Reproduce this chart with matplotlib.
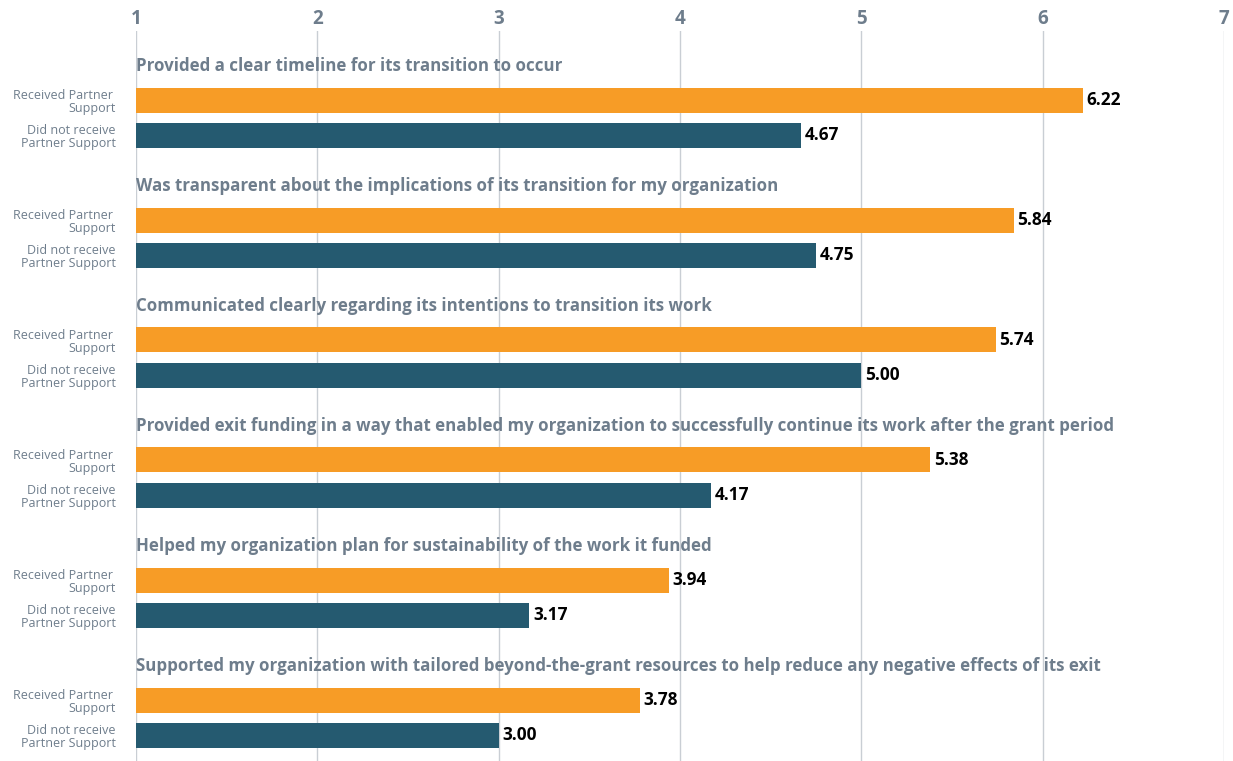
import matplotlib
matplotlib.use("Agg")
import matplotlib.pyplot as plt

questions = [
    "Provided a clear timeline for its transition to occur",
    "Was transparent about the implications of its transition for my organization",
    "Communicated clearly regarding its intentions to transition its work",
    "Provided exit funding in a way that enabled my organization to successfully continue its work after the grant period",
    "Helped my organization plan for sustainability of the work it funded",
    "Supported my organization with tailored beyond-the-grant resources to help reduce any negative effects of its exit",
]
received = [6.22, 5.84, 5.74, 5.38, 3.94, 3.78]
not_received = [4.67, 4.75, 5.00, 4.17, 3.17, 3.00]
series_labels = ["Received Partner \nSupport", "Did not receive\nPartner Support"]
xticks = [1, 2, 3, 4, 5, 6, 7]

ORANGE = "#F79C26"
TEAL = "#255A70"
GREY_TXT = "#6E7D8C"
GRID = "#C9CED4"

plt.rcParams['font.family'] = ['Open Sans', 'DejaVu Sans']

W, H = 1233, 761
fig = plt.figure(figsize=(W / 100, H / 100), dpi=100)
left_px, right_px = 136, 1224
top_px, bot_px = 31, 761
ax = fig.add_axes([left_px / W, 1 - bot_px / H, (right_px - left_px) / W, (bot_px - top_px) / H])
ax.set_xlim(1, 7)
ax.set_ylim((bot_px - 64) / 120, (top_px - 64) / 120)

for s in ax.spines.values():
    s.set_visible(False)
ax.set_yticks([])
ax.xaxis.tick_top()
ax.set_xticks(xticks)
ax.set_xticklabels([str(t) for t in xticks], fontsize=13.5, fontweight='bold', color=GREY_TXT)
ax.tick_params(axis='x', length=0, pad=1.5)
for t in xticks:
    ax.axvline(t, color=GRID, lw=1, zorder=0)

bh = 25 / 120
for i, q in enumerate(questions):
    ax.text(1, i + 2 / 120, q, fontsize=12.2, fontweight='bold', color=GREY_TXT, va='center', ha='left')
    y1 = i + 36 / 120
    y2 = i + 71 / 120
    ax.barh(y1, received[i] - 1, left=1, height=bh, color=ORANGE, zorder=2)
    ax.barh(y2, not_received[i] - 1, left=1, height=bh, color=TEAL, zorder=2)
    ax.text(received[i] + 0.02, y1, f"{received[i]:.2f}", fontsize=12.4, fontweight='bold',
            color='black', va='center', ha='left')
    ax.text(not_received[i] + 0.02, y2, f"{not_received[i]:.2f}", fontsize=12.4, fontweight='bold',
            color='black', va='center', ha='left')
    for y, lab in ((y1, series_labels[0]), (y2, series_labels[1])):
        ax.text(1 - 20 / 181.3, y + 2 / 120, lab, fontsize=9, color=GREY_TXT, va='center', ha='right',
                multialignment='right', linespacing=0.95)

fig.savefig("out.png", dpi=100)
